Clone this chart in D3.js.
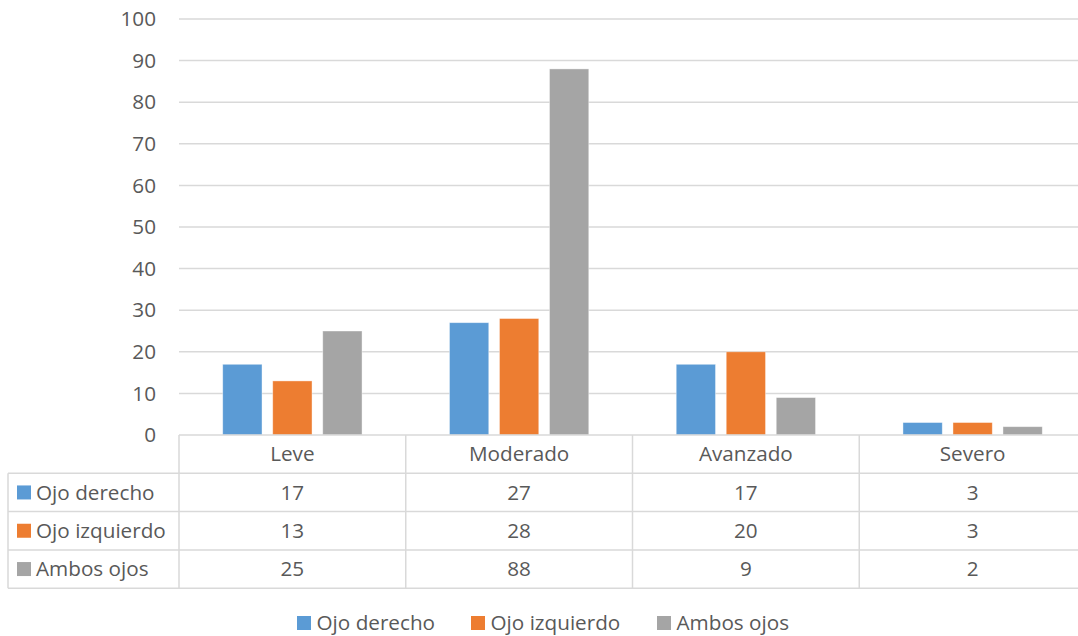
<!DOCTYPE html>
<html>
<head>
<meta charset="utf-8">
<script src="https://cdn.jsdelivr.net/npm/d3@7"></script>
<style>
  html, body { margin: 0; padding: 0; background: #fff; }
  svg { display: block; font-family: "Open Sans", "Segoe UI", sans-serif; }
</style>
</head>
<body>
<svg id="chart" width="1078" height="636"></svg>
<script>
// Grado de afectación por ojo
const categories = ["Leve", "Moderado", "Avanzado", "Severo"];
const seriesNames = ["Ojo derecho", "Ojo izquierdo", "Ambos ojos"];
const ojoDerecho = [17, 27, 17, 3];
const ojoIzquierdo = [13, 28, 20, 3];
const ambosOjos = [25, 88, 9, 2];
const yTicks = [0, 10, 20, 30, 40, 50, 60, 70, 80, 90, 100];
const colors = ["#5B9BD5", "#ED7D31", "#A5A5A5"];

const seriesValues = [ojoDerecho, ojoIzquierdo, ambosOjos];

const W = 1078;
const plotLeft = 179, plotRight = 1086, plotTop = 19, plotBase = 435;
const tableLeft = 8;
const rowH = 38.3;
const textColor = "#595959";
const lineColor = "#D9D9D9";
const fontSize = 20.7;

const svg = d3.select("#chart");

const x0 = d3.scaleBand().domain(categories).range([plotLeft, plotRight]).paddingInner(0).paddingOuter(0);
const x1 = d3.scaleBand().domain(seriesNames).range([0, x0.bandwidth()])
  .paddingInner(0.214).paddingOuter(0.874);
const y = d3.scaleLinear().domain([0, 100]).range([plotBase, plotTop]);

// gridlines
svg.append("g").selectAll("line").data(yTicks.filter(d => d > 0)).join("line")
  .attr("x1", plotLeft).attr("x2", W)
  .attr("y1", d => y(d)).attr("y2", d => y(d))
  .attr("stroke", lineColor).attr("stroke-width", 1.5);

// y-axis labels
const yAxis = d3.axisLeft(y).tickValues(yTicks).tickSize(0).tickPadding(0);
const yg = svg.append("g").attr("transform", `translate(${156},0)`).call(yAxis);
yg.select(".domain").remove();
yg.selectAll("text").attr("fill", textColor).attr("font-size", fontSize)
  .attr("font-family", "'Open Sans', sans-serif");

// bars
const groups = svg.append("g").selectAll("g").data(categories).join("g")
  .attr("transform", d => `translate(${x0(d)},0)`);
groups.selectAll("rect")
  .data((c, i) => seriesNames.map((s, j) => ({ s, j, v: seriesValues[j][i] })))
  .join("rect")
  .attr("x", d => x1(d.s))
  .attr("width", x1.bandwidth())
  .attr("y", d => y(d.v))
  .attr("height", d => plotBase - y(d.v))
  .attr("fill", d => colors[d.j])
  .attr("stroke", "#ffffff").attr("stroke-opacity", 0.5).attr("stroke-width", 0.8);

// data table
const table = svg.append("g");
const rowsBottom = plotBase + rowH * 4;
table.append("line").attr("x1", plotLeft).attr("x2", W).attr("y1", plotBase).attr("y2", plotBase)
  .attr("stroke", lineColor).attr("stroke-width", 1.5);
[1, 2, 3, 4].forEach(r => {
  table.append("line").attr("x1", tableLeft).attr("x2", W)
    .attr("y1", plotBase + rowH * r).attr("y2", plotBase + rowH * r)
    .attr("stroke", lineColor).attr("stroke-width", 1.5);
});
table.append("line").attr("x1", tableLeft).attr("x2", tableLeft)
  .attr("y1", plotBase + rowH).attr("y2", rowsBottom)
  .attr("stroke", lineColor).attr("stroke-width", 1.5);
categories.forEach(c => {
  table.append("line").attr("x1", x0(c)).attr("x2", x0(c))
    .attr("y1", plotBase).attr("y2", rowsBottom)
    .attr("stroke", lineColor).attr("stroke-width", 1.5);
});
// header labels
table.selectAll("text.cat").data(categories).join("text").attr("class", "cat")
  .attr("x", d => x0(d) + x0.bandwidth() / 2)
  .attr("y", plotBase + rowH / 2)
  .attr("dy", "0.35em")
  .attr("text-anchor", "middle")
  .attr("fill", textColor).attr("font-size", fontSize)
  .text(d => d);
// series rows
seriesNames.forEach((s, j) => {
  const cy = plotBase + rowH * (j + 1) + rowH / 2;
  table.append("rect").attr("x", 17).attr("y", cy - 7).attr("width", 14).attr("height", 14)
    .attr("fill", colors[j]);
  table.append("text").attr("x", 36).attr("y", cy).attr("dy", "0.35em")
    .attr("fill", textColor).attr("font-size", fontSize).text(s);
  categories.forEach((c, i) => {
    table.append("text").attr("x", x0(c) + x0.bandwidth() / 2).attr("y", cy).attr("dy", "0.35em")
      .attr("text-anchor", "middle").attr("fill", textColor).attr("font-size", fontSize)
      .text(seriesValues[j][i]);
  });
});

// legend
const legendX = [297, 471, 657];
const legend = svg.append("g");
seriesNames.forEach((s, j) => {
  legend.append("rect").attr("x", legendX[j]).attr("y", 616).attr("width", 14).attr("height", 14)
    .attr("fill", colors[j]);
  legend.append("text").attr("x", legendX[j] + 19.5).attr("y", 623).attr("dy", "0.35em")
    .attr("fill", textColor).attr("font-size", fontSize).text(s);
});
</script>
</body>
</html>
